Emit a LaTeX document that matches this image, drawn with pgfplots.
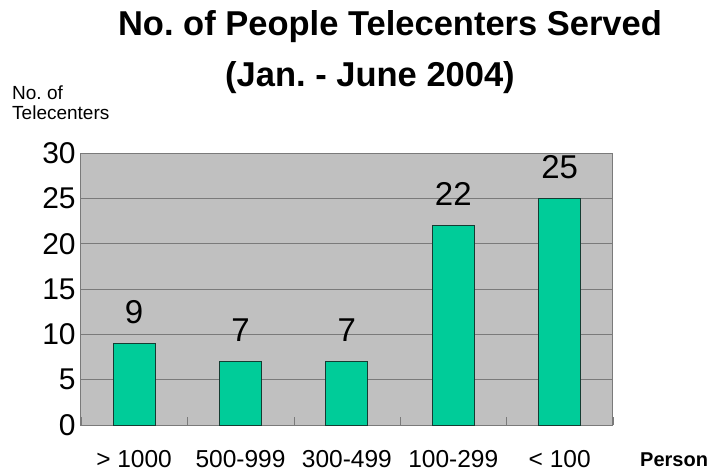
\documentclass[border=0pt]{standalone}
\usepackage{fontspec}
\setmainfont{Liberation Sans}
\setsansfont{Liberation Sans}
\usepackage{pgfplots}
\pgfplotsset{compat=1.18}

\definecolor{bargreen}{HTML}{00CC99}
\definecolor{baredge}{HTML}{143C32}
\definecolor{plotgray}{HTML}{C0C0C0}
\definecolor{gridgray}{HTML}{7A7A7A}

\begin{document}
\frenchspacing
\begin{tikzpicture}[x=1pt,y=1pt]
% page frame, 707 x 474
\useasboundingbox (0,0) rectangle (707,474);

\begin{axis}[
    at={(76,54)}, anchor=south west,
    scale only axis,
    width=532pt, height=272pt,
    ybar, bar width=42pt,
    xmin=-0.5, xmax=4.5,
    ymin=0, ymax=30,
    xtick={0,1,2,3,4},
    xticklabels={{> 1000},{500-999},{300-499},{100-299},{< 100}},
    minor xtick={-0.5,0.5,1.5,2.5,3.5,4.5},
    xtick pos=bottom,
    ytick={0,5,...,30},
    major x tick style={draw=none},
    minor x tick style={draw=gridgray},
    minor tick length=8pt,
    tick align=inside,
    ytick style={draw=none},
    ymajorgrids,
    grid style={gridgray, line width=0.9pt},
    axis background/.style={fill=plotgray},
    axis line style={gridgray, line width=0.9pt},
    /pgf/number format/assume math mode=true,
    yticklabel style={font=\fontsize{30}{32}\selectfont, inner sep=0pt, xshift=-5pt},
    xticklabel style={font=\fontsize{24.5}{26}\selectfont, inner sep=0pt, anchor=base, yshift=-42pt},
    nodes near coords,
    every node near coord/.append style={font=\fontsize{33}{35}\selectfont, yshift=16pt},
]
\addplot[fill=bargreen, draw=baredge, line width=1pt]
    coordinates {(0,9) (1,7) (2,7) (3,22) (4,25)};
\end{axis}

% titles and labels
\node[anchor=base, inner sep=0pt, font=\bfseries\fontsize{34.5}{36}\selectfont] at (390,438) {No. of People Telecenters Served};
\node[anchor=base, inner sep=0pt, font=\bfseries\fontsize{34.5}{36}\selectfont] at (370,387) {(Jan. - June 2004)};
\node[anchor=base west, inner sep=0pt, font=\fontsize{19}{21}\selectfont] at (12,374) {No. of};
\node[anchor=base west, inner sep=0pt, font=\fontsize{19}{21}\selectfont] at (12,354) {Telecenters};
\node[anchor=base west, inner sep=0pt, font=\bfseries\fontsize{20}{22}\selectfont] at (640,8) {Person};
\end{tikzpicture}
\end{document}
